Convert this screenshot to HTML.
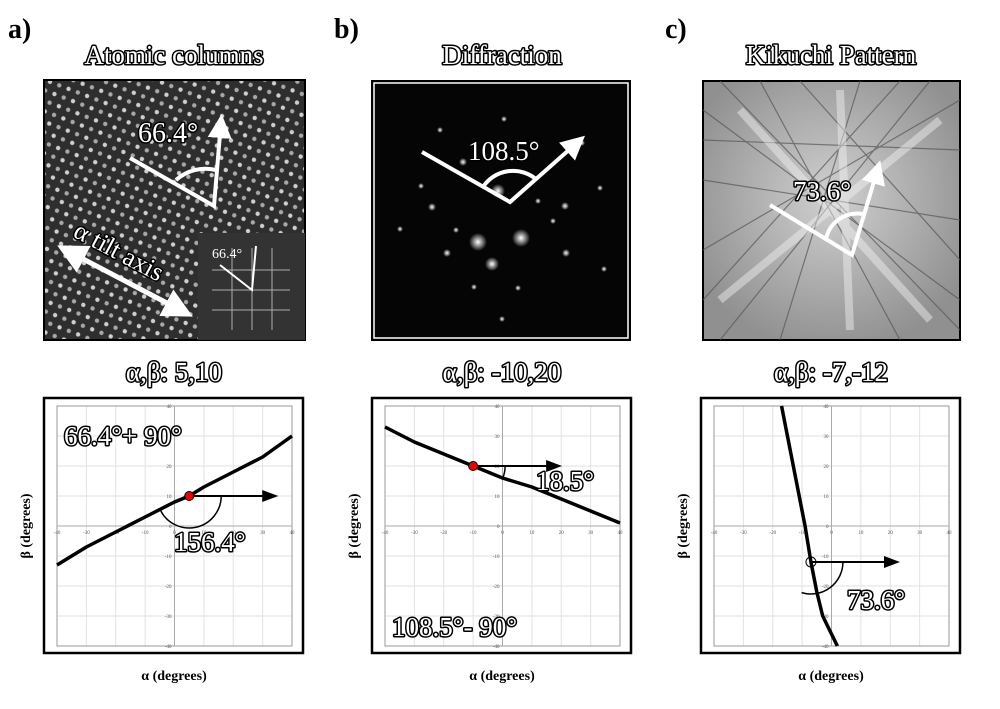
<!DOCTYPE html>
<html><head><meta charset="utf-8"><style>
html,body{margin:0;padding:0;background:#fff;width:1000px;height:709px;overflow:hidden}
svg{display:block;font-family:"Liberation Serif",serif}
.ol{fill:#fff;stroke:#000;stroke-width:3;paint-order:stroke;stroke-linejoin:round}
</style></head><body>
<svg id="fig" width="1000" height="709" viewBox="0 0 1000 709">
<defs>
<pattern id="atoms" width="15" height="13" patternUnits="userSpaceOnUse" patternTransform="rotate(-20)">
<rect width="15" height="13" fill="#2e2e2e"/>
<circle cx="4" cy="3" r="2.2" fill="#cfcfcf"/><circle cx="11.5" cy="9.5" r="2.2" fill="#a8a8a8"/>
</pattern>
<radialGradient id="spot"><stop offset="0" stop-color="#fff"/><stop offset="1" stop-color="#fff" stop-opacity="0"/></radialGradient>
<radialGradient id="kik" cx="0.5" cy="0.45" r="0.6"><stop offset="0" stop-color="#d0d0d0"/><stop offset="1" stop-color="#909090"/></radialGradient>
<marker id="ahw" markerWidth="6" markerHeight="6" refX="4" refY="3" orient="auto-start-reverse" markerUnits="strokeWidth"><path d="M0,0 L6,3 L0,6 Z" fill="#fff"/></marker>
<marker id="ahk" markerWidth="8" markerHeight="6" refX="6" refY="3" orient="auto" markerUnits="strokeWidth"><path d="M0,0 L8,3 L0,6 Z" fill="#000"/></marker>
</defs>

<text x="8" y="38" font-size="28" font-weight="bold">a)</text>
<text x="334" y="38" font-size="28" font-weight="bold">b)</text>
<text x="665" y="38" font-size="28" font-weight="bold">c)</text>

<text x="174" y="64" font-size="27" text-anchor="middle" class="ol">Atomic columns</text>
<text x="502" y="64" font-size="27" text-anchor="middle" class="ol">Diffraction</text>
<text x="831" y="64" font-size="27" text-anchor="middle" class="ol">Kikuchi Pattern</text>

<g>
<rect x="44" y="80" width="261" height="260" fill="url(#atoms)" stroke="#000" stroke-width="2"/>
<rect x="198" y="233" width="107" height="107" fill="#333"/>
<g stroke="#fff" stroke-width="1" opacity="0.6"><line x1="212" y1="270" x2="290" y2="270"/><line x1="212" y1="290" x2="290" y2="290"/><line x1="212" y1="310" x2="290" y2="310"/><line x1="232" y1="248" x2="232" y2="330"/><line x1="252" y1="248" x2="252" y2="330"/><line x1="272" y1="248" x2="272" y2="330"/></g>
<text x="212" y="258" font-size="14" fill="#fff">66.4°</text>
<polyline points="220,265 252,290 256,246" fill="none" stroke="#fff" stroke-width="2"/>
<polyline points="130,158 214,206 221,122" fill="none" stroke="#fff" stroke-width="4" marker-end="url(#ahw)"/>
<path d="M176,180 A44,44 0 0 1 216,170" fill="none" stroke="#fff" stroke-width="4"/>
<text x="138" y="142" font-size="28" class="ol">66.4°</text>
<line x1="66" y1="250" x2="184" y2="312" stroke="#fff" stroke-width="5" marker-end="url(#ahw)" marker-start="url(#ahw)"/>
<text x="0" y="0" font-size="26" class="ol" transform="translate(72,236) rotate(28)">α tilt axis</text>
</g>

<g>
<rect x="372" y="81" width="258" height="259" fill="#050505" stroke="#000" stroke-width="2"/>
<rect x="374" y="83" width="254" height="255" fill="none" stroke="#fff" stroke-width="1.5"/>
<g fill="url(#spot)">
<circle cx="478" cy="242" r="9"/><circle cx="521" cy="238" r="9"/><circle cx="492" cy="264" r="7"/><circle cx="498" cy="191" r="7"/>
<circle cx="432" cy="207" r="4"/><circle cx="565" cy="206" r="4"/><circle cx="447" cy="253" r="4"/><circle cx="566" cy="253" r="4"/>
<circle cx="463" cy="162" r="4"/><circle cx="421" cy="186" r="3"/><circle cx="600" cy="188" r="3"/><circle cx="538" cy="201" r="3"/>
<circle cx="456" cy="230" r="3"/><circle cx="553" cy="221" r="3"/><circle cx="518" cy="288" r="3"/><circle cx="474" cy="287" r="3"/>
<circle cx="504" cy="119" r="3"/><circle cx="440" cy="130" r="3"/><circle cx="582" cy="143" r="3"/><circle cx="400" cy="229" r="3"/><circle cx="604" cy="269" r="3"/><circle cx="502" cy="319" r="3"/>
</g>
<polyline points="422,152 510,202 579,141" fill="none" stroke="#fff" stroke-width="4" marker-end="url(#ahw)"/>
<path d="M483,187 A36,36 0 0 1 537,180" fill="none" stroke="#fff" stroke-width="4"/>
<text x="468" y="160" font-size="27" class="ol">108.5°</text>
</g>

<g>
<rect x="703" y="81" width="257" height="259" fill="url(#kik)" stroke="#000" stroke-width="2"/>
<g stroke="#555" stroke-width="1.2" opacity="0.7">
<line x1="703" y1="110" x2="960" y2="300"/><line x1="703" y1="250" x2="960" y2="100"/><line x1="760" y1="81" x2="900" y2="340"/><line x1="860" y1="81" x2="780" y2="340"/>
<line x1="703" y1="180" x2="960" y2="220"/><line x1="930" y1="81" x2="720" y2="340"/><line x1="703" y1="300" x2="900" y2="81"/><line x1="800" y1="81" x2="960" y2="260"/>
<line x1="720" y1="81" x2="960" y2="330"/><line x1="703" y1="140" x2="960" y2="150"/>
</g>
<g stroke="#f4f4f4" stroke-width="8" opacity="0.45"><line x1="740" y1="110" x2="930" y2="320"/><line x1="720" y1="300" x2="940" y2="120"/><line x1="840" y1="90" x2="850" y2="330"/></g>
<polyline points="770,205 852,255 878,168" fill="none" stroke="#fff" stroke-width="4" marker-end="url(#ahw)"/>
<path d="M826,239 A32,32 0 0 1 863,214" fill="none" stroke="#fff" stroke-width="4"/>
<text x="793" y="200" font-size="27" class="ol">73.6°</text>
</g>

<text x="174" y="381" font-size="27" text-anchor="middle" class="ol">α,β: 5,10</text>
<text x="502" y="381" font-size="27" text-anchor="middle" class="ol">α,β: -10,20</text>
<text x="831" y="381" font-size="27" text-anchor="middle" class="ol">α,β: -7,-12</text>

<g id="charts"></g>

<text x="174" y="680" font-size="14" font-weight="bold" text-anchor="middle">α (degrees)</text>
<text x="502" y="680" font-size="14" font-weight="bold" text-anchor="middle">α (degrees)</text>
<text x="831" y="680" font-size="14" font-weight="bold" text-anchor="middle">α (degrees)</text>
<text transform="translate(30,526) rotate(-90)" font-size="14" font-weight="bold" text-anchor="middle">β (degrees)</text>
<text transform="translate(358,526) rotate(-90)" font-size="14" font-weight="bold" text-anchor="middle">β (degrees)</text>
<text transform="translate(687,526) rotate(-90)" font-size="14" font-weight="bold" text-anchor="middle">β (degrees)</text>
</svg>
<script>
const tickVals = [-40,-30,-20,-10,0,10,20,30,40];
const alphaA = [-40,-30,-20,-10,0,5,10,20,30,40];
const betaA = [-13,-7,-2,3,8,10,13,18,23,30];
const alphaB = [-40,-30,-20,-10,0,10,20,30,40];
const betaB = [33,28,24,20,16,13,9,5,1];
const alphaC = [-17,-15,-13,-11,-9,-7,-5,-3,2];
const betaC = [40,30,20,10,0,-12,-22,-30,-40];
const markA = [5,10], markB = [-10,20], markC = [-7,-12];

const NS = 'http://www.w3.org/2000/svg';
const root = document.getElementById('charts');
function mk(tag, attrs, parent){const e=document.createElementNS(NS,tag);for(const k in attrs)e.setAttribute(k,attrs[k]);(parent||root).appendChild(e);return e;}

function chart(bx, key, al, be, mark, markRed, arcStartDeg, arcEndDeg, labels){
  const g = mk('g',{});
  
  
  const x0 = bx+13, x1 = bx+248, y0 = 406, y1 = 646;
  const sx = v => x0 + (v+40)/80*(x1-x0);
  const sy = v => y1 - (v+40)/80*(y1-y0);
  mk('rect',{x:bx,y:398,width:259,height:255,fill:'#fff',stroke:'#000','stroke-width':2.5},g);
  tickVals.forEach(t=>{
    mk('line',{x1:sx(t),y1:y0,x2:sx(t),y2:y1,stroke:'#e2e2e2','stroke-width':1},g);
    mk('line',{x1:x0,y1:sy(t),x2:x1,y2:sy(t),stroke:'#e2e2e2','stroke-width':1},g);
  });
  mk('rect',{x:x0,y:y0,width:x1-x0,height:y1-y0,fill:'none',stroke:'#999','stroke-width':1},g);
  mk('line',{x1:sx(0),y1:y0,x2:sx(0),y2:y1,stroke:'#aaa','stroke-width':1},g);
  mk('line',{x1:x0,y1:sy(0),x2:x1,y2:sy(0),stroke:'#aaa','stroke-width':1},g);
  tickVals.forEach(t=>{
    const tx = mk('text',{x:sx(t),y:sy(0)+8,'font-size':5,'text-anchor':'middle',fill:'#555'},g);
    tx.textContent = t;
    
    
    const ty = mk('text',{x:sx(0)-3,y:sy(t)+2,'font-size':5,'text-anchor':'end',fill:'#555'},g);
    ty.textContent = t;
    
    
  });
  const pts = al.map((a,i)=>sx(a)+','+sy(be[i])).join(' ');
  const line = mk('polyline',{points:pts,fill:'none',stroke:'#000','stroke-width':3.5,'stroke-linejoin':'round'},g);
  
  
  const mx = sx(mark[0]), my = sy(mark[1]);
  const arr = mk('line',{x1:mx,y1:my,x2:mx+85,y2:my,stroke:'#000','stroke-width':2,'marker-end':'url(#ahk)'},g);
  
  
  const r = 32;
  const a1 = arcStartDeg*Math.PI/180, a2 = arcEndDeg*Math.PI/180;
  mk('path',{d:`M${mx+r*Math.cos(a1)},${my+r*Math.sin(a1)} A${r},${r} 0 0 1 ${mx+r*Math.cos(a2)},${my+r*Math.sin(a2)}`,fill:'none',stroke:'#000','stroke-width':1.5},g);
  const dot = mk('circle',{cx:mx,cy:my,r:markRed?4.5:5,fill:markRed?'#e00':'none',stroke:'#000','stroke-width':1},g);
  
  
  labels.forEach(l=>{
    const t = mk('text',{x:l[0],y:l[1],'font-size':l[3],class:'ol'},g);
    t.textContent = l[2];
    
    
  });
}
chart(44,'a',alphaA,betaA,markA,true,0,156,[[64,445,'66.4°+ 90°',27],[174,551,'156.4°',27]]);
chart(372,'b',alphaB,betaB,markB,true,0,22,[[536,490,'18.5°',27],[392,636,'108.5°- 90°',27]]);
chart(701,'c',alphaC,betaC,markC,false,0,107,[[847,609,'73.6°',27]]);
</script>
</body></html>
